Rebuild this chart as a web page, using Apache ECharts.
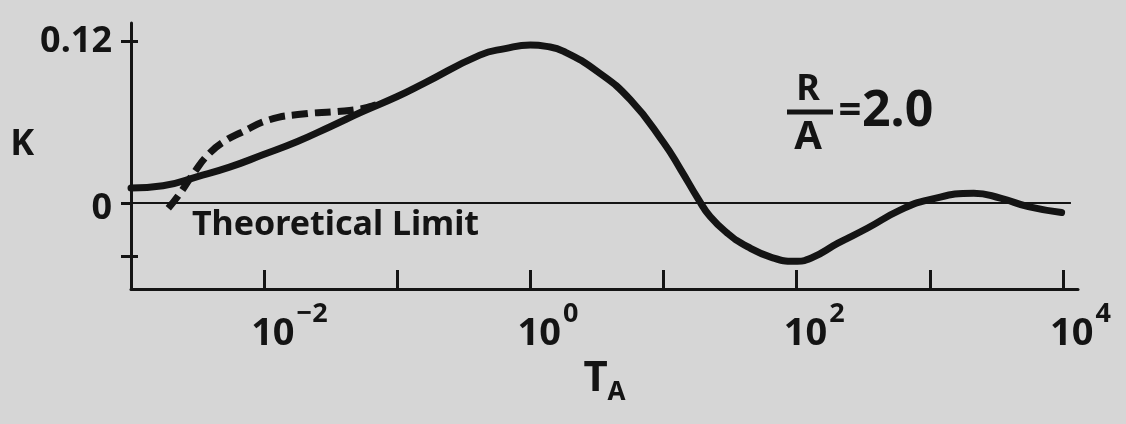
<!DOCTYPE html>
<html>
<head>
<meta charset="utf-8">
<script src="https://cdn.jsdelivr.net/npm/echarts@6/dist/echarts.min.js"></script>
<style>
  html, body { margin: 0; padding: 0; background: #d6d6d6; }
  #chart { width: 1126px; height: 424px; }
</style>
</head>
<body>
<div id="chart"></div>
<script>
// Abscissa is log10(T_A); ordinate is K.
const tickExponents = [-3, -2, -1, 0, 1, 2, 3, 4];
const labelExponents = [-2, 0, 2, 4];
const yTickValues = [-0.04, 0, 0.12];
const yInnerTickValues = [-0.04, 0.12];
const yLabelValues = [0, 0.12];

// Solid curve
const solidLogT = [-3.00, -2.76, -2.50, -2.26, -2.01, -1.75, -1.50, -1.26, -1.00, -0.80,
  -0.38, -0.19, 0.00, 0.12, 0.25, 0.50, 0.75, 1.00, 1.13, 1.26, 1.35, 1.48, 1.63, 1.81,
  1.98, 2.11, 2.31, 2.53, 2.78, 2.99, 3.33, 3.53, 3.74, 3.99];
const solidK = [0.0110, 0.0127, 0.0196, 0.0266, 0.0358, 0.0457, 0.0569, 0.0680, 0.0792, 0.0890,
  0.1100, 0.1148, 0.1175, 0.1165, 0.1128, 0.0980, 0.0768, 0.0450, 0.0246, 0.0030, -0.0102, -0.0226, -0.0326, -0.0405,
  -0.0435, -0.0410, -0.0300, -0.0189, -0.0052, 0.0022, 0.0072, 0.0035, -0.0028, -0.0072];

// Dashed curve
const dashedLogT = [-2.72, -2.64, -2.53, -2.41, -2.28, -2.18, -1.96, -1.71, -1.45, -1.28, -1.19, -1.12];
const dashedK = [-0.0040, 0.0060, 0.0220, 0.0370, 0.0470, 0.0520, 0.0619, 0.0661, 0.0680, 0.0698, 0.0720, 0.0740];

// Theoretical limit
const limitK = 0;
const limitSpan = [-3, 4.06];

const INK = '#141414';
const FONT = 'Noto Sans';

const zip = (xs, ys) => xs.map((x, i) => [x, ys[i]]);

const chart = echarts.init(document.getElementById('chart'), null, { renderer: 'canvas' });

const yBase = {
  type: 'value',
  min: -0.0641,
  max: 0.1339,
  position: 'left',
  splitLine: { show: false }
};

const option = {
  animation: false,
  backgroundColor: '#d6d6d6',
  textStyle: { fontFamily: FONT },
  grid: { left: 131, right: 48, top: 23, bottom: 135 },
  xAxis: {
    type: 'value',
    min: -3,
    max: 4.113,
    position: 'bottom',
    splitLine: { show: false },
    axisLine: { show: true, onZero: false, lineStyle: { color: INK, width: 3 } },
    axisTick: { show: true, inside: true, length: 19, customValues: tickExponents,
      lineStyle: { color: INK, width: 3 } },
    axisLabel: {
      customValues: labelExponents,
      margin: 12,
      align: 'left',
      padding: [0, 0, 0, -13],
      color: INK,
      formatter: v => '{b|10}{s|' + String(v).replace('-', '\u2212') + '}',
      rich: {
        b: { fontFamily: FONT, fontSize: 38, fontWeight: 'bold', color: INK, lineHeight: 40, verticalAlign: 'top', padding: [14, 0, 0, 0] },
        s: { fontFamily: FONT, fontSize: 27, fontWeight: 'bold', color: INK, lineHeight: 26, verticalAlign: 'top', padding: [0, 0, 0, 2] }
      }
    },
    name: '{t|T}{s|A}',
    nameLocation: 'middle',
    nameGap: 64,
    nameTextStyle: {
      rich: {
        t: { fontFamily: FONT, fontSize: 42, fontWeight: 'bold', color: INK, lineHeight: 44, verticalAlign: 'top' },
        s: { fontFamily: FONT, fontSize: 26, fontWeight: 'bold', color: INK, lineHeight: 28, verticalAlign: 'top', padding: [22, 0, 0, 0] }
      }
    }
  },
  yAxis: [
    Object.assign({}, yBase, {
      axisLine: { show: true, onZero: false, lineStyle: { color: INK, width: 3 } },
      axisTick: { show: true, inside: false, length: 10, customValues: yTickValues,
        lineStyle: { color: INK, width: 3 } },
      axisLabel: {
        customValues: yLabelValues,
        margin: 19,
        color: INK,
        fontFamily: FONT,
        fontSize: 36,
        fontWeight: 'bold',
        formatter: v => (v === 0 ? '{z|0}' : String(v)),
        rich: {
          z: { fontFamily: FONT, fontSize: 36, fontWeight: 'bold', color: INK, padding: [12, 0, 0, 0] }
        }
      },
      name: '{k|K}',
      nameLocation: 'middle',
      nameRotate: 0,
      nameGap: 93,
      nameTextStyle: {
        rich: {
          k: { fontFamily: FONT, fontSize: 36, fontWeight: 'bold', color: INK, lineHeight: 40, padding: [0, 0, 22, 0] }
        }
      }
    }),
    Object.assign({}, yBase, {
      axisLine: { show: false, onZero: false },
      axisTick: { show: true, inside: true, length: 7, customValues: yInnerTickValues,
        lineStyle: { color: INK, width: 3 } },
      axisLabel: { show: false }
    })
  ],
  series: [
    {
      name: 'Theoretical Limit',
      type: 'line',
      data: limitSpan.map(x => [x, limitK]),
      symbol: 'none',
      z: 1,
      lineStyle: { color: INK, width: 2 }
    },
    {
      name: 'dashed',
      type: 'line',
      data: zip(dashedLogT, dashedK),
      symbol: 'none',
      smooth: 0.5,
      z: 3,
      lineStyle: { color: INK, width: 7, type: [16, 7], cap: 'butt', join: 'round' }
    },
    {
      name: 'solid',
      type: 'line',
      data: zip(solidLogT, solidK),
      symbol: 'none',
      smooth: 0.5,
      z: 4,
      lineStyle: { color: INK, width: 7, cap: 'round', join: 'round' }
    }
  ],
  graphic: [
    { type: 'text', left: 192, top: 208, z: 10,
      style: { text: 'Theoretical Limit', font: 'bold 34px "Noto Sans"', fill: INK } },
    { type: 'text', x: 808, y: 90, z: 10,
      style: { text: 'R', font: 'bold 36px "Noto Sans"', fill: INK, align: 'center', verticalAlign: 'middle' } },
    { type: 'line', z: 10,
      shape: { x1: 787, y1: 112, x2: 833, y2: 112 },
      style: { stroke: INK, lineWidth: 5 } },
    { type: 'text', x: 808, y: 138, z: 10,
      style: { text: 'A', font: 'bold 40px "Noto Sans"', fill: INK, align: 'center', verticalAlign: 'middle' } },
    { type: 'text', x: 850, y: 112, z: 10,
      style: { text: '=', font: 'bold 40px "Noto Sans"', fill: INK, align: 'center', verticalAlign: 'middle' } },
    { type: 'text', x: 862, y: 112, z: 10,
      style: { text: '2.0', font: 'bold 50px "Noto Sans"', fill: INK, align: 'left', verticalAlign: 'middle' } }
  ]
};

chart.setOption(option);
</script>
</body>
</html>
